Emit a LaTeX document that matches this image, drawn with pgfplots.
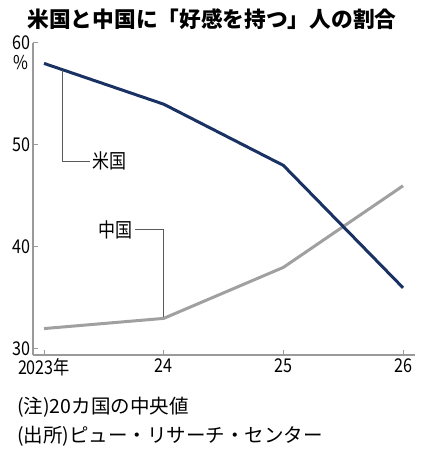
\documentclass[border=0pt]{standalone}
\usepackage{fontspec}
\setmainfont{Noto Sans CJK JP}
\newfontfamily\condfont[FakeStretch=0.85]{Noto Sans CJK JP}
\usepackage{pgfplots}
\pgfplotsset{compat=1.18}
\definecolor{usnavy}{HTML}{1A3263}
\definecolor{cngray}{HTML}{A0A0A0}
\definecolor{axgray}{HTML}{9A9A9A}
\definecolor{leader}{HTML}{5A5A5A}
\begin{document}
\begin{tikzpicture}[x=1bp,y=1bp]
\begin{axis}[
  name=a, at={(0,0)}, anchor=south west,
  scale only axis, width=382bp, height=312bp,
  xmin=-0.092, xmax=3.10, ymin=29.41, ymax=60,
  axis lines*=left,
  axis line style={axgray, line width=1.3bp},
  xtick={0,1,2,3}, xticklabels={2023年,24,25,26},
  ytick={30,40,50,60},
  tick align=inside,
  major tick length=5bp,
  tick style={axgray, line width=1bp},
  /pgf/number format/assume math mode=true,
  tick label style={font=\condfont\fontsize{19bp}{19bp}\selectfont, text=black},
  xticklabel style={yshift=0bp},
  yticklabel style={xshift=1bp},
  clip=false,
]
\addplot[cngray, line width=3bp] coordinates {(0,32) (1,33) (2,38) (3,46)};
\addplot[usnavy, line width=3bp] coordinates {(0,58) (1,54) (2,48) (3,36)};
% leader lines
\draw[leader, line width=0.9bp] (axis cs:0.15,57.4) -- (axis cs:0.15,48.4) -- (axis cs:0.385,48.4);
\node[anchor=west, inner sep=0pt, font=\condfont\fontsize{20bp}{20bp}\selectfont] at (axis cs:0.40,48.4) {米国};
\draw[leader, line width=0.9bp] (axis cs:1,33.1) -- (axis cs:1,41.7) -- (axis cs:0.76,41.7);
\node[anchor=east, inner sep=0pt, font=\condfont\fontsize{20bp}{20bp}\selectfont] at (axis cs:0.745,41.7) {中国};
\node[anchor=east, inner sep=0pt, font=\condfont\fontsize{19bp}{19bp}\selectfont] at (axis cs:-0.125,58.1) {\%};
\end{axis}
% title and notes
\node[font=\fontsize{21.7bp}{21.7bp}\selectfont\bfseries] at (212-33,355-19) {米国と中国に「好感を持つ」人の割合};
\node[anchor=west, inner sep=0pt, font=\fontsize{19.5bp}{19.5bp}\selectfont] at (17-33,355-407) {(注)20カ国の中央値};
\node[anchor=west, inner sep=0pt, font=\fontsize{19.5bp}{19.5bp}\selectfont] at (17-33,355-436) {(出所)ピュー・リサーチ・センター};
\useasboundingbox (-33,-99) rectangle (392,355);
\end{tikzpicture}
\end{document}
